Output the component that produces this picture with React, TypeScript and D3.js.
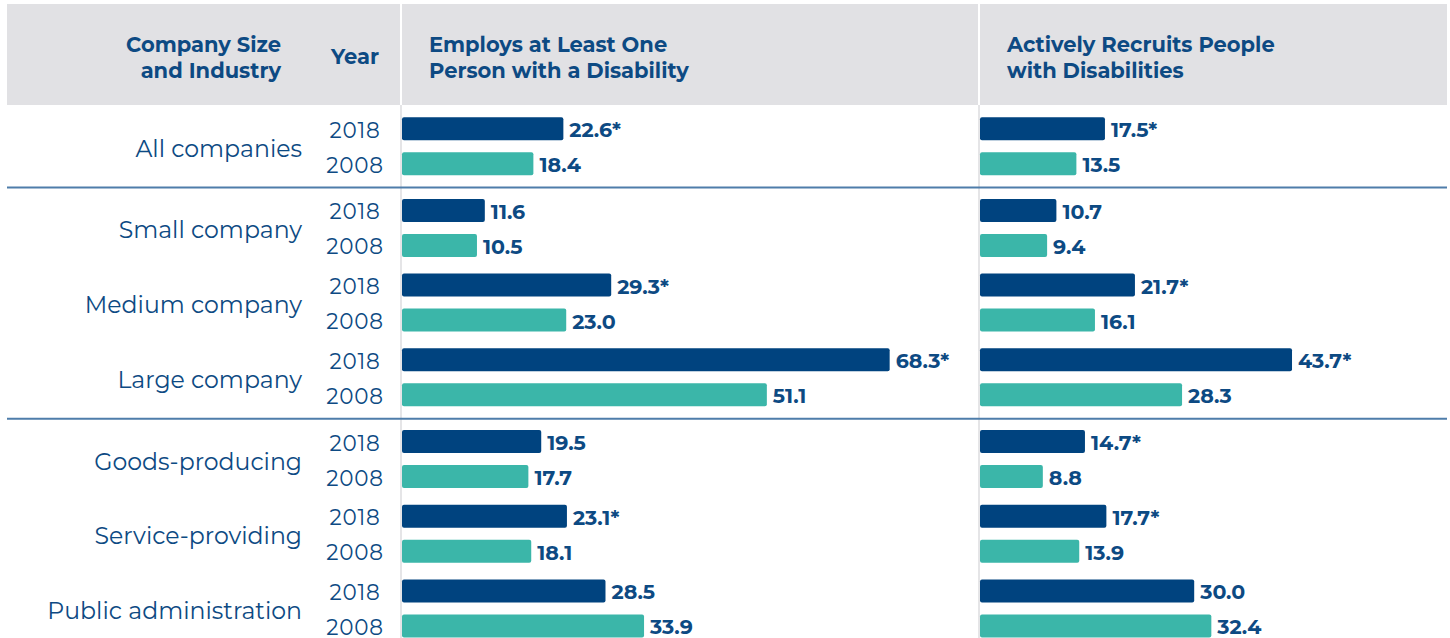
import React from "react";
import * as d3 from "d3";

const categories = [
  "All companies",
  "Small company",
  "Medium company",
  "Large company",
  "Goods-producing",
  "Service-providing",
  "Public administration",
];
const sections = [0, 1, 1, 1, 2, 2, 2];
const years = ["2018", "2008"];
const employs2018 = [22.6, 11.6, 29.3, 68.3, 19.5, 23.1, 28.5];
const employs2018Sig = [true, false, true, true, false, true, false];
const employs2008 = [18.4, 10.5, 23.0, 51.1, 17.7, 18.1, 33.9];
const recruits2018 = [17.5, 10.7, 21.7, 43.7, 14.7, 17.7, 30.0];
const recruits2018Sig = [true, false, true, true, true, true, false];
const recruits2008 = [13.5, 9.4, 16.1, 28.3, 8.8, 13.9, 32.4];

const headerLabel = ["Company Size", "and Industry"];
const headerYear = "Year";
const panelTitles = [
  ["Employs at Least One", "Person with a Disability"],
  ["Actively Recruits People", "with Disabilities"],
];

const W = 1450;
const H = 638;
const NAVY = "#00437f";
const TEAL = "#3bb6a9";
const TEXT = "#0d4a83";
const FONT = "Montserrat, Inter, 'Open Sans', sans-serif";

export default function App() {
  const panelX = [402, 980];
  const x = d3.scaleLinear().domain([0, 80]).range([0, 571.2]);
  const groupPitch = 74.7;
  const sectionGap = 7;
  const firstCenter = 128.7;
  const pairGap = 35;
  const barH = 23;
  const groupY = (i: number) =>
    firstCenter + (i - sections[i]) * groupPitch + sections[i] * (groupPitch + sectionGap);

  const panels = [
    { v18: employs2018, sig: employs2018Sig, v08: employs2008 },
    { v18: recruits2018, sig: recruits2018Sig, v08: recruits2008 },
  ];

  const sepYs = [1, 4].map((i) => (groupY(i - 1) + pairGap + groupY(i)) / 2 + 0.5);

  return (
    <svg
      width={W}
      height={H}
      style={{ position: "absolute", left: 0, top: 0, background: "#fff" }}
      fontFamily={FONT}
    >
      <rect x={7} y={4} width={1440} height={101} fill="#e1e1e4" />
      {panelX.map((px, k) => (
        <g key={"div" + k}>
          <line x1={px - 1} x2={px - 1} y1={4} y2={105} stroke="#fff" strokeWidth={2} />
          <line x1={px - 1} x2={px - 1} y1={105} y2={H} stroke="#dcdcdf" strokeWidth={1.5} />
        </g>
      ))}
      {headerLabel.map((t, i) => (
        <text
          key={"hl" + i}
          x={281}
          y={52 + i * 26}
          textAnchor="end"
          fontSize={21}
          fontWeight={700}
          fill={TEXT}
        >
          {t}
        </text>
      ))}
      <text x={355} y={64} textAnchor="middle" fontSize={21} fontWeight={700} fill={TEXT}>
        {headerYear}
      </text>
      {panelTitles.map((lines, k) =>
        lines.map((t, i) => (
          <text
            key={"pt" + k + i}
            x={panelX[k] + 27}
            y={52 + i * 26}
            fontSize={21}
            fontWeight={700}
            fill={TEXT}
          >
            {t}
          </text>
        ))
      )}
      {sepYs.map((y, i) => (
        <line key={"sep" + i} x1={7} x2={1447} y1={y} y2={y} stroke="#4e7daa" strokeWidth={2} />
      ))}
      {categories.map((c, i) => {
        const cy = groupY(i);
        return (
          <g key={c}>
            <text
              x={302}
              y={cy + pairGap / 2 + 2}
              textAnchor="end"
              dominantBaseline="central"
              fontSize={23.6}
              fill={TEXT}
            >
              {c}
            </text>
            {years.map((yr, j) => (
              <text
                key={yr}
                x={355}
                y={cy + j * pairGap + 1}
                textAnchor="middle"
                dominantBaseline="central"
                fontSize={21.5}
                letterSpacing={0.8}
                fill={TEXT}
              >
                {yr}
              </text>
            ))}
          </g>
        );
      })}
      {panels.map((p, k) => (
        <g key={"panel" + k} transform={`translate(${panelX[k]},0)`}>
          {categories.map((c, i) => {
            const cy = groupY(i);
            const rows = [
              { v: p.v18, color: NAVY, label: p.v18[i].toFixed(1) + (p.sig[i] ? "*" : "") },
              { v: p.v08, color: TEAL, label: p.v08[i].toFixed(1) },
            ];
            return rows.map((r, j) => (
              <g key={c + j}>
                <rect
                  x={0}
                  y={cy + j * pairGap - barH / 2}
                  width={x(r.v[i])}
                  height={barH}
                  rx={2}
                  fill={r.color}
                />
                <text
                  x={x(r.v[i]) + 6}
                  y={cy + j * pairGap + 1}
                  dominantBaseline="central"
                  fontSize={20.6}
                  fontWeight={700}
                  fill={TEXT}
                >
                  {r.label}
                </text>
              </g>
            ));
          })}
        </g>
      ))}
    </svg>
  );
}
